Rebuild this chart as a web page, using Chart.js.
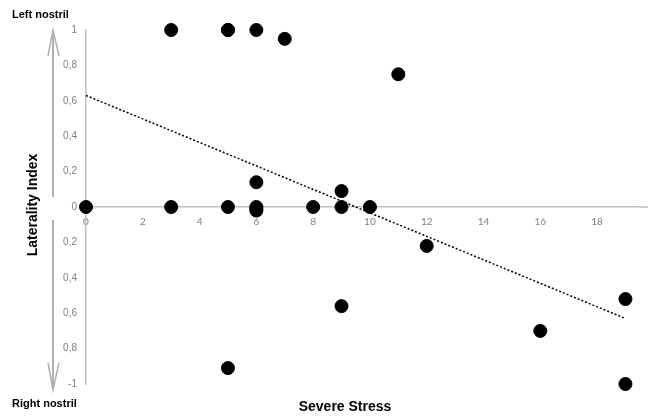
<!DOCTYPE html>
<html>
<head>
<meta charset="utf-8">
<script src="https://cdn.jsdelivr.net/npm/chart.js@4"></script>
<style>
  html, body { margin: 0; padding: 0; background: #fff; }
  #wrap { width: 648px; height: 419px; position: relative; }
</style>
</head>
<body>
<div id="wrap"><canvas id="chart"></canvas></div>
<script>
// Severe stress score vs. laterality index
const stressValues = [3, 5, 5, 6, 7, 11, 6, 9, 0, 3, 5, 6, 6, 6, 8, 9, 10, 12, 9, 16, 19, 19, 5];
const lateralityValues = [1, 1, 1, 1, 0.95, 0.75, 0.14, 0.09, 0, 0, 0, 0, -0.01, -0.02, 0, 0, 0, -0.22, -0.56, -0.7, -0.52, -1, -0.91];

// trend line endpoints
const trendX = [0, 19];
const trendY = [0.63, -0.63];

// tick values
const xTicks = [0, 2, 4, 6, 8, 10, 12, 14, 16, 18];
const yTicks = [-1, -0.8, -0.6, -0.4, -0.2, 0, 0.2, 0.4, 0.6, 0.8, 1];

const xTitle = 'Severe Stress';
const yTitle = 'Laterality Index';
const topLabel = 'Left nostril';
const bottomLabel = 'Right nostril';

const points = stressValues.map((x, i) => ({ x: x, y: lateralityValues[i] }));
const trend = trendX.map((x, i) => ({ x: x, y: trendY[i] }));

// Helper: 0.6 -> "0,6", -0.4 -> "0,4", -1 -> "-1"
function fmtY(v) {
    const r = Math.round(v * 10) / 10;
    if (r === 0) return '0';
    if (r === 1) return '1';
    if (r === -1) return '-1';
    return Math.abs(r).toFixed(1).replace('.', ',');
}

// extra text + grey arrows around the y axis
const decorations = {
    id: 'decorations',
    beforeDatasetsDraw(chart) {
        // the x axis line runs on to the right edge of the picture
        const ctx = chart.ctx;
        const y0 = chart.scales.y.getPixelForValue(0);
        if (chart.chartArea.right < chart.width - 1) {
            ctx.save();
            ctx.strokeStyle = '#c0c0c0';
            ctx.lineWidth = 1.5;
            ctx.beginPath();
            ctx.moveTo(chart.chartArea.right - 1, y0);
            ctx.lineTo(chart.width, y0);
            ctx.stroke();
            ctx.restore();
        }
    },
    afterDraw(chart) {
        const ctx = chart.ctx;
        ctx.save();

        ctx.fillStyle = '#000';
        ctx.font = 'bold 11px "Liberation Sans", Arial, sans-serif';
        ctx.textBaseline = 'middle';
        ctx.textAlign = 'left';
        ctx.fillText(topLabel, 12, 15);
        ctx.fillText(bottomLabel, 12, 404);

        ctx.font = 'bold 14px "Liberation Sans", Arial, sans-serif';
        ctx.textAlign = 'center';
        ctx.fillText(xTitle, 345, 407);

        ctx.save();
        ctx.translate(33, 205);
        ctx.rotate(-Math.PI / 2);
        ctx.fillText(yTitle, 0, 0);
        ctx.restore();

        // arrows
        ctx.strokeStyle = '#b0b0b0';
        ctx.lineWidth = 2;
        ctx.beginPath();
        ctx.moveTo(53, 31); ctx.lineTo(53, 197);
        ctx.moveTo(53, 220); ctx.lineTo(53, 389);
        ctx.stroke();
        ctx.lineWidth = 1.5;
        ctx.beginPath();
        ctx.moveTo(48, 56); ctx.lineTo(53, 30); ctx.lineTo(59, 56);
        ctx.moveTo(48, 363); ctx.lineTo(53, 390); ctx.lineTo(59, 363);
        ctx.stroke();

        ctx.restore();
    }
};

const ctx = document.getElementById('chart').getContext('2d');
new Chart(ctx, {
    type: 'scatter',
    data: {
        datasets: [
            {
                label: 'Subjects',
                data: points,
                backgroundColor: '#000',
                borderColor: '#000',
                pointRadius: 6.5,
                pointHoverRadius: 6.5,
                clip: false
            },
            {
                type: 'line',
                label: 'Trend',
                data: trend,
                borderColor: '#000',
                borderWidth: 1.5,
                borderDash: [2, 2],
                pointRadius: 0,
                fill: false
            }
        ]
    },
    options: {
        responsive: true,
        maintainAspectRatio: false,
        animation: false,
        layout: { padding: { top: 30, right: 0, bottom: 35, left: 0 } },
        plugins: {
            legend: { display: false },
            tooltip: { enabled: false }
        },
        scales: {
            x: {
                type: 'linear',
                position: { y: 0 },
                min: 0,
                max: 19.53,
                grid: { display: false, drawTicks: false },
                border: { display: true, color: '#c0c0c0', width: 1.5 },
                afterBuildTicks: scale => { scale.ticks = xTicks.map(v => ({ value: v })); },
                ticks: {
                    padding: 9,
                    color: '#808080',
                    font: { size: 10, family: 'Lato, "Liberation Sans", sans-serif' },
                    maxRotation: 0,
                    autoSkip: false,
                    callback: v => String(v)
                }
            },
            y: {
                type: 'linear',
                min: -1,
                max: 1,
                grid: { display: false, drawTicks: false },
                border: { display: true, color: '#c0c0c0', width: 1.5 },
                afterFit: scale => { scale.width = 86; },
                afterBuildTicks: scale => { scale.ticks = yTicks.map(v => ({ value: v })); },
                ticks: {
                    padding: 9,
                    color: '#808080',
                    font: { size: 10, family: '"Liberation Sans", Arial, sans-serif' },
                    callback: v => fmtY(v)
                }
            }
        }
    },
    plugins: [decorations]
});
</script>
</body>
</html>
